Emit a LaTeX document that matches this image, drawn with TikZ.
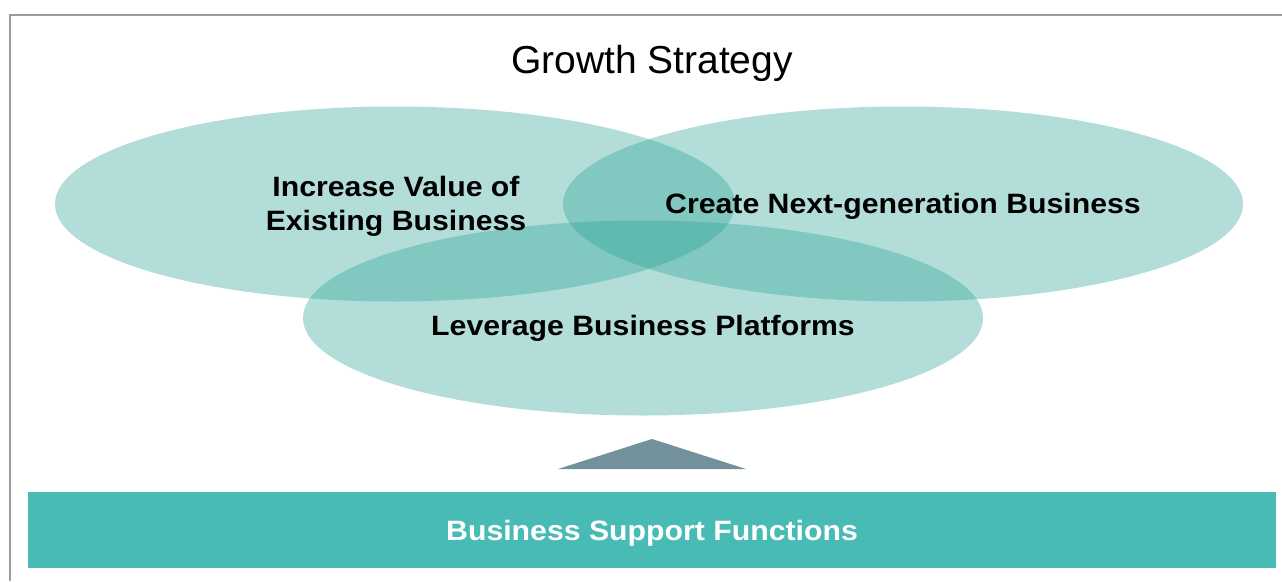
\documentclass[tikz,border=0pt]{standalone}
\usepackage{fontspec}
\setmainfont{Liberation Sans}
\newfontfamily\lblfont[FakeStretch=1.08]{Liberation Sans}
\usepackage{xcolor}
\usetikzlibrary{shapes.geometric}

\definecolor{circteal}{RGB}{41,162,148}
\definecolor{barteal}{RGB}{72,187,180}
\definecolor{slate}{RGB}{115,145,155}
\definecolor{framegray}{RGB}{155,155,155}

\begin{document}
\begin{tikzpicture}[x=1pt, y=-1pt,
        circ/.style={ellipse, fill=circteal, fill opacity=0.36, inner sep=0pt,
            minimum width=680pt, minimum height=195pt},
        lbl/.style={font=\lblfont\fontsize{28}{34}\selectfont\bfseries, align=center, inner sep=0pt},
        bar/.style={fill=barteal, text=white, inner sep=0pt, minimum width=1248pt,
            minimum height=76pt, text height=20pt, text depth=0pt,
            font=\lblfont\fontsize{28}{34}\selectfont\bfseries}]
        \useasboundingbox (0,0) rectangle (1282,581);
        \draw[framegray, line width=1.5pt] (9,15) -- (1282,15);
        \draw[framegray, line width=1.5pt] (10,15) -- (10,581);
        \node (title) at (652,63) {\fontsize{39}{42}\selectfont Growth Strategy};
        % three overlapping circles
        \node[circ] (existc) at (395,204) {};
        \node[circ] (nextc) at (903,204) {};
        \node[circ] (platc) at (643,318) {};
        \node[lbl] (exist) at (396,206) {Increase Value of\\Existing Business};
        \node[lbl] (next) at (903,206) {Create Next-generation Business};
        \node[lbl] (plat) at (643,328) {Leverage Business Platforms};
        % base
        \node[bar] (support) at (652,530) {Business Support Functions};
        \fill[slate] (558,469) -- (652,439) -- (746,469) -- cycle;
    \end{tikzpicture}
\end{document}
